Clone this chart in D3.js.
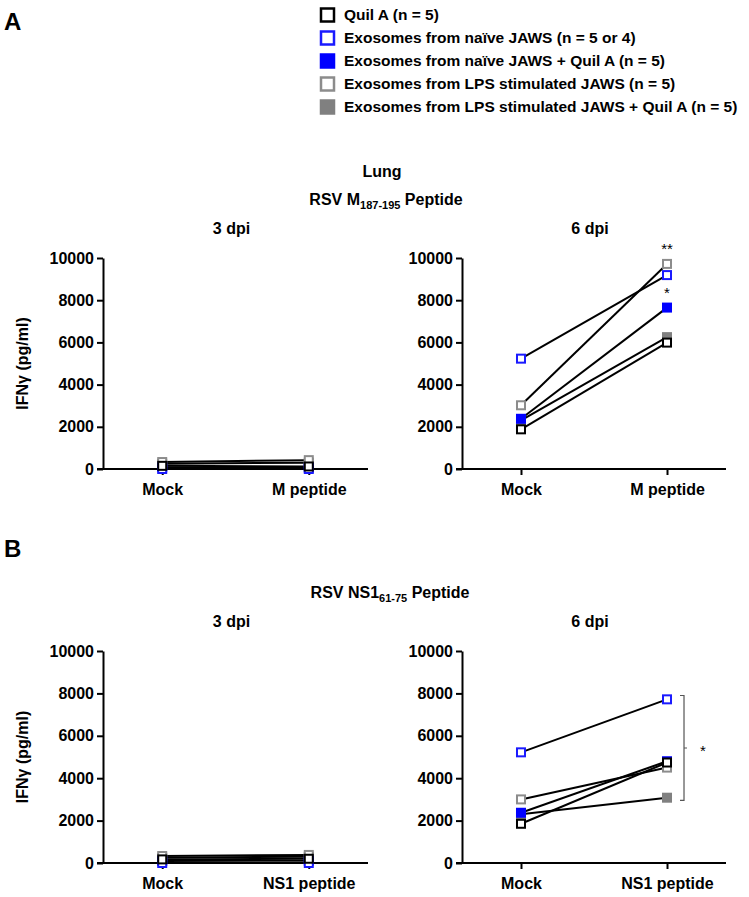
<!DOCTYPE html>
<html>
<head>
<meta charset="utf-8">
<script src="https://cdn.jsdelivr.net/npm/d3@7"></script>
<style>
  html, body { margin: 0; padding: 0; background: #fff; }
  svg { display: block; font-family: "Liberation Sans", Arial, sans-serif; }
</style>
</head>
<body>
<svg id="chart" width="749" height="897"></svg>
<script>
// ---------- DATA ----------
const groups = [
  "Quil A (n = 5)",
  "Exosomes from naïve JAWS (n = 5 or 4)",
  "Exosomes from naïve JAWS + Quil A (n = 5)",
  "Exosomes from LPS stimulated JAWS (n = 5)",
  "Exosomes from LPS stimulated JAWS + Quil A (n = 5)"
];
const categoriesM = ["Mock", "M peptide"];
const categoriesNS1 = ["Mock", "NS1 peptide"];
const yTicks = [0, 2000, 4000, 6000, 8000, 10000];

// values per group: [Mock, peptide]  (order follows groups)
const mDpi3 = [[150, 120], [0, 0], [80, 60], [330, 420], [250, 300]];
const mDpi6 = [[1880, 5990], [5230, 9190], [2380, 7650], [3020, 9720], [2300, 6250]];
const ns1Dpi3 = [[170, 200], [0, 0], [90, 110], [330, 380], [250, 300]];
const ns1Dpi6 = [[1850, 4740], [5220, 7720], [2370, 4800], [3000, 4500], [2300, 3080]];

// significance annotations
const mDpi6Stars = [{ cat: "M peptide", value: 9720, label: "**" }, { cat: "M peptide", value: 7650, label: "*" }];
const ns1Bracket = [2950, 7900];

// ---------- STYLE ----------
const styles = [
  { stroke: "#000000", fill: "#ffffff" },
  { stroke: "#1a1aff", fill: "#ffffff" },
  { stroke: "#0000ff", fill: "#0000ff" },
  { stroke: "#8c8c8c", fill: "#ffffff" },
  { stroke: "#808080", fill: "#808080" }
];
const drawOrder = [4, 3, 2, 1, 0];

const svg = d3.select("#chart");

function panel(opts) {
  const { x0, x1, yBottom, yTop, cats, data, showYLabel, title } = opts;
  const g = svg.append("g");
  const x = d3.scalePoint().domain(cats).range([x0, x1]).padding(0.404);
  const y = d3.scaleLinear().domain([0, 10000]).range([yBottom, yTop]);

  const ya = g.append("g").attr("transform", `translate(${x0},0)`)
    .call(d3.axisLeft(y).tickValues(yTicks).tickSize(6).tickSizeOuter(0).tickPadding(3).tickFormat(d3.format("d")));
  const xa = g.append("g").attr("transform", `translate(0,${yBottom})`)
    .call(d3.axisBottom(x).tickSize(6).tickSizeOuter(0).tickPadding(9));
  [ya, xa].forEach(a => {
    a.select(".domain").attr("stroke", "#000").attr("stroke-width", 2);
    a.selectAll(".tick line").attr("stroke", "#000").attr("stroke-width", 2);
    a.selectAll(".tick text").attr("fill", "#000").attr("font-size", 16).attr("font-weight", "bold")
      .attr("font-family", "'Liberation Sans', Arial, sans-serif");
  });
  xa.select(".domain").attr("d", `M${x0 - 6},0H${x1}`);

  g.append("text").attr("x", (x0 + x1) / 2 - 4).attr("y", yTop - 24)
    .attr("text-anchor", "middle").attr("font-size", 16).attr("font-weight", "bold").text(title);

  if (showYLabel) {
    g.append("text")
      .attr("transform", `translate(28,${(yBottom + yTop) / 2}) rotate(-90)`)
      .attr("text-anchor", "middle").attr("font-size", 16).attr("font-weight", "bold")
      .text("IFNγ (pg/ml)");
  }

  const line = d3.line().x(d => x(d[0])).y(d => y(d[1]));
  drawOrder.forEach(i => {
    g.append("path").datum(cats.map((c, j) => [c, data[i][j]]))
      .attr("d", line).attr("fill", "none").attr("stroke", "#000").attr("stroke-width", 2);
  });
  const s = 8;
  drawOrder.forEach(i => {
    g.selectAll(null).data(cats.map((c, j) => [c, data[i][j]])).enter().append("rect")
      .attr("x", d => x(d[0]) - s / 2).attr("y", d => y(d[1]) - s / 2)
      .attr("width", s).attr("height", s)
      .attr("fill", styles[i].fill).attr("stroke", styles[i].stroke).attr("stroke-width", 2);
  });
  return { g, x, y };
}

// Panel letters
svg.append("text").attr("x", 4).attr("y", 30).attr("font-size", 24).attr("font-weight", "bold").text("A");
svg.append("text").attr("x", 4).attr("y", 557).attr("font-size", 24).attr("font-weight", "bold").text("B");

// Legend
const legend = svg.append("g");
groups.forEach((name, i) => {
  const cy = 15 + i * 23;
  const st = styles[i];
  legend.append("rect").attr("x", 321).attr("y", cy - 6.5).attr("width", 13).attr("height", 13)
    .attr("fill", st.fill).attr("stroke", st.stroke).attr("stroke-width", 2.5);
  legend.append("text").attr("x", 344).attr("y", cy + 5).attr("font-size", 15.5).attr("font-weight", "bold").text(name);
});

// Section headings
svg.append("text").attr("x", 382).attr("y", 177).attr("text-anchor", "middle")
  .attr("font-size", 16).attr("font-weight", "bold").text("Lung");

function subTitle(cx, cy, pre, sub, post) {
  const t = svg.append("text").attr("x", cx).attr("y", cy).attr("text-anchor", "middle")
    .attr("font-size", 16).attr("font-weight", "bold");
  t.append("tspan").text(pre);
  t.append("tspan").attr("font-size", 11).attr("dy", 4).text(sub);
  t.append("tspan").attr("dy", -4).text(post);
}
subTitle(386, 205, "RSV M", "187-195", " Peptide");
subTitle(390, 598, "RSV NS1", "61-75", " Peptide");

// Panels
panel({ x0: 103, x1: 368, yBottom: 469, yTop: 258, cats: categoriesM, data: mDpi3, showYLabel: true, title: "3 dpi" });
const pM6 = panel({ x0: 462, x1: 726, yBottom: 469, yTop: 258, cats: categoriesM, data: mDpi6, showYLabel: false, title: "6 dpi" });
panel({ x0: 103, x1: 368, yBottom: 863, yTop: 651, cats: categoriesNS1, data: ns1Dpi3, showYLabel: true, title: "3 dpi" });
const pN6 = panel({ x0: 462, x1: 726, yBottom: 863, yTop: 651, cats: categoriesNS1, data: ns1Dpi6, showYLabel: false, title: "6 dpi" });

mDpi6Stars.forEach(s => {
  pM6.g.append("text").attr("x", pM6.x(s.cat)).attr("y", pM6.y(s.value) - 10)
    .attr("text-anchor", "middle").attr("font-size", 15).text(s.label);
});

const bx = pN6.x("NS1 peptide") + 17;
const by0 = pN6.y(ns1Bracket[0]), by1 = pN6.y(ns1Bracket[1]);
const bm = (by0 + by1) / 2;
pN6.g.append("path")
  .attr("d", `M${bx - 4},${by1}H${bx}V${by0}H${bx - 4}M${bx},${bm}H${bx + 3}`)
  .attr("fill", "none").attr("stroke", "#555").attr("stroke-width", 1.2);
pN6.g.append("text").attr("x", bx + 19).attr("y", bm + 8).attr("text-anchor", "middle")
  .attr("font-size", 15).text("*");
</script>
</body>
</html>
